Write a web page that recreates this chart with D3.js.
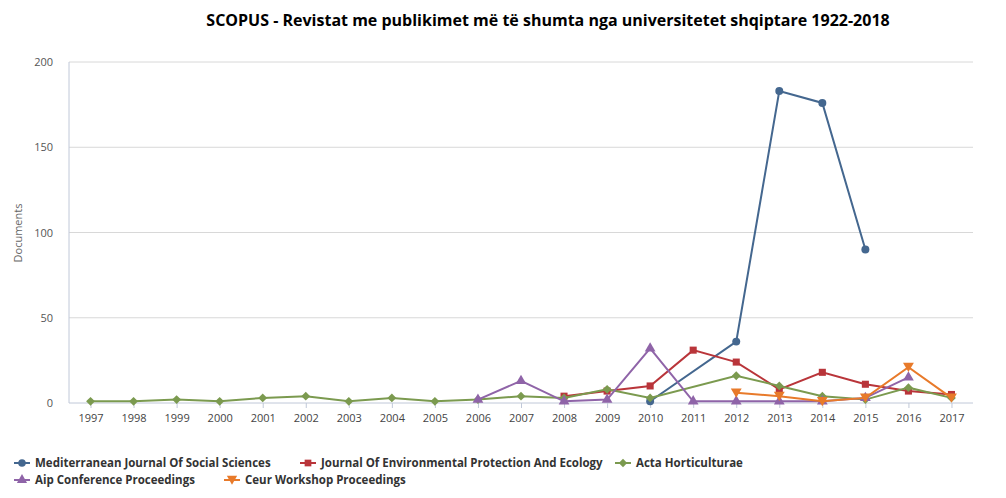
<!DOCTYPE html><html><head><meta charset="utf-8"><script src="https://cdn.jsdelivr.net/npm/d3@7"></script>
<style>body{margin:0;background:#fff;font-family:"Open Sans",sans-serif}</style></head><body><svg id="c" width="1006" height="498"></svg>
<script>
const years=["1997","1998","1999","2000","2001","2002","2003","2004","2005","2006","2007","2008","2009","2010","2011","2012","2013","2014","2015","2016","2017"];
const yTicks=[0,50,100,150,200];
const medit=[null,null,null,null,null,null,null,null,null,null,null,null,null,1,null,36,183,176,90,null,null];
const jepe=[null,null,null,null,null,null,null,null,null,null,null,4,7,10,31,24,8,18,11,7,5];
const acta=[1,1,2,1,3,4,1,3,1,2,4,3,8,3,null,16,10,4,2,9,3];
const aip=[null,null,null,null,null,null,null,null,null,2,13,1,2,32,1,1,1,1,3,15,null];
const ceur=[null,null,null,null,null,null,null,null,null,null,null,null,null,null,null,6,4,1,3,21,3];
const series=[
 {name:"Mediterranean Journal Of Social Sciences",v:medit,c:"#44678f",s:d3.symbolCircle},
 {name:"Journal Of Environmental Protection And Ecology",v:jepe,c:"#b9353a",s:d3.symbolSquare},
 {name:"Acta Horticulturae",v:acta,c:"#7b9a4f",s:"diamond"},
 {name:"Aip Conference Proceedings",v:aip,c:"#8f64a8",s:d3.symbolTriangle},
 {name:"Ceur Workshop Proceedings",v:ceur,c:"#e87a2a",s:"tri-down"}];
const svg=d3.select("#c");
const L=69,R=973,T=62,B=403;
const x=d3.scalePoint().domain(years).range([L,R]).padding(0.5);
const y=d3.scaleLinear().domain([0,200]).range([B,T]);
svg.append("text").attr("x",548).attr("y",26).attr("text-anchor","middle").attr("font-size",16).attr("font-weight","bold").attr("fill","#000").text("SCOPUS - Revistat me publikimet më të shumta nga universitetet shqiptare 1922-2018");
const g=svg.append("g");
yTicks.forEach(t=>{g.append("line").attr("x1",L).attr("x2",R).attr("y1",y(t)).attr("y2",y(t)).attr("stroke",t==0?"#c0c8d8":"#d8d8d8");
 g.append("text").attr("x",53).attr("y",y(t)+4).attr("text-anchor","end").attr("font-size",11).attr("fill","#555").text(t);});
g.append("line").attr("x1",L).attr("x2",L).attr("y1",T).attr("y2",B).attr("stroke","#c0c8d8");
const xa=svg.append("g").attr("transform",`translate(0,${B})`).call(d3.axisBottom(x).tickSize(5));
xa.select(".domain").remove();
xa.selectAll("line").attr("stroke","#c0c8d8");
xa.selectAll("text").attr("font-size",11).attr("fill","#444").attr("font-family","Open Sans").attr("dy","1.0em");
svg.append("text").attr("transform","translate(22,233) rotate(-90)").attr("text-anchor","middle").attr("font-size",11).attr("fill","#666").text("Documents");
const triDown={draw(ctx,size){const r=Math.sqrt(size)/1.3;ctx.moveTo(-r,-r*0.8);ctx.lineTo(r,-r*0.8);ctx.lineTo(0,r*0.9);ctx.closePath();}};
const diamond={draw(ctx,size){const r=Math.sqrt(size)/1.6;ctx.moveTo(0,-r);ctx.lineTo(r,0);ctx.lineTo(0,r);ctx.lineTo(-r,0);ctx.closePath();}};
function sym(s,size){return d3.symbol().type(s==="tri-down"?triDown:s==="diamond"?diamond:s).size(size)();}
series.forEach(s=>{
 const pts=s.v.map((v,i)=>({v,i})).filter(d=>d.v!=null);
 svg.append("path").attr("d",d3.line().x(d=>x(years[d.i])).y(d=>y(d.v))(pts)).attr("fill","none").attr("stroke",s.c).attr("stroke-width",2);
 svg.selectAll(null).data(pts).enter().append("path").attr("d",sym(s.s,50)).attr("transform",d=>`translate(${x(years[d.i])},${y(d.v)})`).attr("fill",s.c);
});
const leg=[[22,463],[308,463],[623,463],[22,480],[232,480]];
series.forEach((s,i)=>{const [lx,ly]=leg[i];
 svg.append("line").attr("x1",lx-8).attr("x2",lx+8).attr("y1",ly).attr("y2",ly).attr("stroke",s.c).attr("stroke-width",2);
 svg.append("path").attr("d",sym(s.s,45)).attr("transform",`translate(${lx},${ly})`).attr("fill",s.c);
 svg.append("text").attr("x",lx+13).attr("y",ly+4).attr("font-size",11.5).attr("font-weight","bold").attr("fill","#333").attr("textLength",null).text(s.name);});
</script></body></html>
